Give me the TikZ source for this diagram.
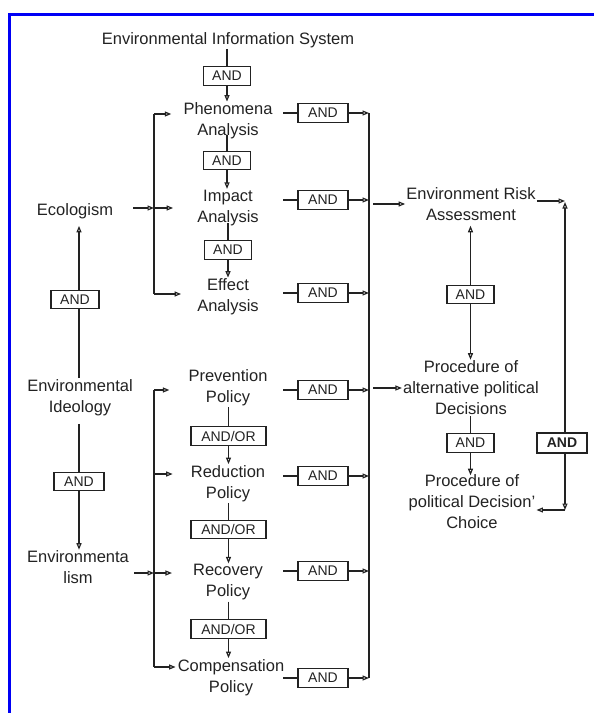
\documentclass[tikz,border=0pt]{standalone}
\usepackage{fontspec}
\setmainfont{Liberation Sans}
\usetikzlibrary{arrows.meta}
\definecolor{ink}{HTML}{222222}
\definecolor{frame}{RGB}{0,0,245}
\begin{document}
\begin{tikzpicture}[x=1bp,y=-1bp,
  lbl/.style={align=center, font=\fontsize{16.5bp}{21bp}\selectfont, text=ink, inner sep=1bp},
  gate/.style={draw=ink, line width=1.1bp, minimum width=47bp, minimum height=18.5bp, inner sep=0pt, font=\fontsize{14bp}{16bp}\selectfont, text=ink},
  ln/.style={draw=ink, line width=1.2bp},
  arr/.style={ln, -{Triangle[open, length=6.5bp, width=5bp]}},
]
\useasboundingbox (0,0) rectangle (594,713);
\draw[frame, line width=3bp] (9.2,713) -- (9.2,14.2) -- (594,14.2);

% named helper coordinates
\coordinate (lx) at (79,0);
\coordinate (sx) at (283,0);
\coordinate (bl1t) at (154,114);
\coordinate (bl1e) at (154,208);
\coordinate (bl1b) at (154,294);
\coordinate (bl2t) at (154,390);
\coordinate (bl2m) at (154,474);
\coordinate (bl2r) at (154,573);
\coordinate (bl2b) at (154,667);
\coordinate (brt) at (369,113);
\coordinate (brb) at (369,678);
\coordinate (ctop) at (565,201);
\coordinate (cbot) at (565,510);

% centre column (analysis)
\node[lbl] (eis) at (228,40) {Environmental Information System};
\node[gate] (a0) at (227,76) {AND};
\node[lbl] (phen) at (228,121) {Phenomena\\Analysis};
\node[gate] (a1) at (227,160.5) {AND};
\node[lbl] (imp) at (228,208) {Impact\\Analysis};
\node[gate] (a2) at (228,250) {AND};
\node[lbl] (eff) at (228,297) {Effect\\Analysis};

\draw[ln] (eis.south -| a0) -- (a0.north);
\draw[arr] (a0.south) -- (a0.south |- phen.north);
\draw[ln, shorten <=-5bp] (phen.south -| a1) -- (a1.north);
\draw[arr] (a1.south) -- (a1.south |- imp.north);
\draw[ln, shorten <=-4bp] (imp.south -| a2) -- (a2.north);
\draw[arr] (a2.south) -- (a2.south |- eff.north);

% left: ideology
\node[lbl] (eco) at (75,211) {Ecologism};
\node[gate, minimum width=48bp] (aeco) at (75,299.5) {AND};
\node[lbl] (ideo) at (80,397.5) {Environmental\\Ideology};
\node[gate, minimum width=50bp] (aideo) at (79,481.5) {AND};
\node[lbl] (envl) at (78,567.5) {Environmenta\\lism};

\draw[arr, shorten >=6bp] (aeco.north -| lx) -- (eco.south -| lx);
\draw[ln] (ideo.north -| lx) -- (aeco.south -| lx);
\draw[ln, shorten <=7bp] (ideo.south -| lx) -- (aideo.north -| lx);
\draw[arr] (aideo.south -| lx) -- (envl.north -| lx);

% left buses
\draw[ln] (bl1t) -- (bl1b);
\draw[arr, shorten <=19bp] (eco.east |- bl1e) -- (bl1e);
\draw[ln] (bl2t) -- (bl2b);
\draw[arr, shorten <=4bp] (envl.east |- bl2r) -- (bl2r);

% policies
\node[lbl] (prev) at (228,388) {Prevention\\Policy};
\node[gate, minimum width=75bp] (ao1) at (228.5,436) {AND/OR};
\node[lbl] (red) at (228,483.5) {Reduction\\Policy};
\node[gate, minimum width=75bp] (ao2) at (228.5,529.5) {AND/OR};
\node[lbl] (rec) at (228,582.5) {Recovery\\Policy};
\node[gate, minimum width=75bp] (ao3) at (228.5,629) {AND/OR};
\node[lbl] (comp) at (231,677.5) {Compensation\\Policy};

\draw[ln] (prev.south -| ao1) -- (ao1.north);
\draw[arr] (ao1.south) -- (ao1.south |- red.north);
\draw[ln] (red.south -| ao2) -- (ao2.north);
\draw[arr] (ao2.south) -- (ao2.south |- rec.north);
\draw[ln] (rec.south -| ao3) -- (ao3.north);
\draw[arr] (ao3.south) -- (ao3.south |- comp.north);

% arrows from left buses to the items
\draw[arr, shorten >=11bp] (bl1t) -- (bl1t -| phen.west);
\draw[arr, shorten >=23bp] (bl1e) -- (bl1e -| imp.west);
\draw[arr, shorten >=15bp] (bl1b) -- (bl1b -| eff.west);
\draw[arr, shorten >=18bp] (bl2t) -- (bl2t -| prev.west);
\draw[arr, shorten >=17bp] (bl2m) -- (bl2m -| red.west);
\draw[arr, shorten >=20bp] (bl2r) -- (bl2r -| rec.west);
\draw[arr, shorten >=1bp] (bl2b) -- (bl2b -| comp.west);

% right AND gates
\node[gate, minimum width=50bp, minimum height=19bp] (ra1) at (323,113) {AND};
\node[gate, minimum width=50bp, minimum height=19bp] (ra2) at (323,200) {AND};
\node[gate, minimum width=50bp, minimum height=19bp] (ra3) at (323,293) {AND};
\node[gate, minimum width=50bp, minimum height=19bp] (ra4) at (323,390) {AND};
\node[gate, minimum width=50bp, minimum height=19bp] (ra5) at (323,476) {AND};
\node[gate, minimum width=50bp, minimum height=19bp] (ra6) at (323,571) {AND};
\node[gate, minimum width=50bp, minimum height=19bp] (ra7) at (323,678) {AND};

\foreach \g in {ra1,ra2,ra3,ra4,ra5,ra6,ra7}{
  \draw[ln] (\g.west -| sx) -- (\g.west);
  \draw[arr] (\g.east) -- (\g.east -| brt);
}
\draw[ln] (brt) -- (brb);

% right column
\node[lbl] (era) at (471,204) {Environment Risk\\Assessment};
\node[gate, minimum height=17.5bp] (am1) at (470.5,294.5) {AND};
\node[lbl] (pad) at (471,388) {Procedure of\\alternative political\\Decisions};
\node[gate, minimum height=19bp] (am2) at (470.5,443) {AND};
\node[lbl] (pdc) at (472,501.5) {Procedure of\\political Decision’\\Choice};
\node[gate, line width=1.7bp, minimum width=50bp, minimum height=20bp] (ar) at (562,443) {\bfseries AND};

\draw[arr, shorten <=4bp] (era.west -| brt) -- (era.west);
\draw[arr, shorten <=4bp] (pad.west -| brt) -- (pad.west);
\draw[arr, shorten >=4bp] (am1.north) -- (am1.north |- era.south);
\draw[arr] (am1.south) -- (am1.south |- pad.north);
\draw[ln] (pad.south -| am2) -- (am2.north);
\draw[arr, shorten >=-2bp] (am2.south) -- (am2.south |- pdc.north);

\draw[arr] (era.east |- ctop) -- (ctop);
\draw[arr, shorten >=-3bp] (ar.north -| ctop) -- ([yshift=-4bp]ctop);
\draw[arr] (ar.south -| cbot) -- (cbot);
\draw[arr] (cbot) -- (cbot -| pdc.east);
\end{tikzpicture}
\end{document}
